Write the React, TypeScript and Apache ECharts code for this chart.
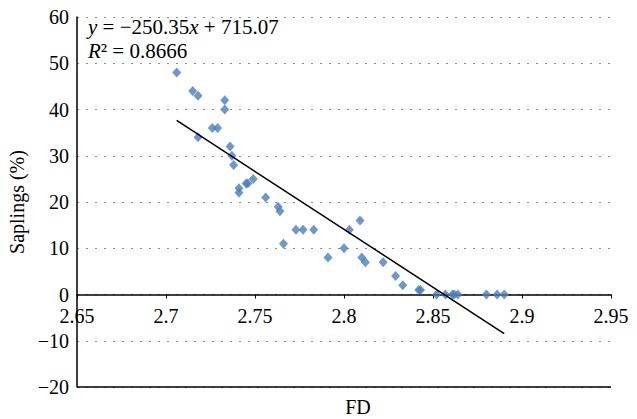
import React, { useEffect, useRef } from "react";
import * as echarts from "echarts";

const fdValues = [
  2.706, 2.715, 2.718, 2.718, 2.726, 2.729, 2.733, 2.733, 2.736, 2.737, 2.738,
  2.741, 2.741, 2.745, 2.746, 2.749, 2.756, 2.763, 2.764, 2.766, 2.773, 2.777,
  2.783, 2.791, 2.8, 2.803, 2.809, 2.81, 2.812, 2.822, 2.829, 2.833, 2.842,
  2.843, 2.852, 2.857, 2.861, 2.862, 2.864, 2.88, 2.886, 2.89,
];
const saplingValues = [
  48, 44, 43, 34, 36, 36, 42, 40, 32, 30, 28, 23, 22, 24, 24, 25, 21, 19, 18,
  11, 14, 14, 14, 8, 10, 14, 16, 8, 7, 7, 4, 2, 1, 1, 0, 0, 0, 0, 0, 0, 0, 0,
];
const slope = -250.35;
const intercept = 715.07;
const rSquared = "0.8666";
const xTicks = [2.65, 2.7, 2.75, 2.8, 2.85, 2.9, 2.95];
const yMin = -20;
const yMax = 60;

const FONT = "'Liberation Serif', 'DejaVu Serif', serif";
const GRID = { left: 77, right: 26, top: 17, bottom: 32 };
const CHART_H = 419;

export default function App() {
  const ref = useRef<HTMLDivElement>(null);
  useEffect(() => {
    if (!ref.current) return;
    const chart = echarts.init(ref.current, undefined, { renderer: "svg" });
    const points = fdValues.map((x, i) => [x, saplingValues[i]]);
    const xMin = Math.min(...fdValues);
    const xMax = Math.max(...fdValues);
    const trend = [
      [xMin, slope * xMin + intercept],
      [xMax, slope * xMax + intercept],
    ];
    const gridH = CHART_H - GRID.top - GRID.bottom;
    const zeroOffset = -gridH * ((0 - yMin) / (yMax - yMin));
    chart.setOption({
      animation: false,
      backgroundColor: "#ffffff",
      grid: { ...GRID, containLabel: false, outerBoundsMode: "none" },
      xAxis: {
        type: "value",
        min: 2.65,
        max: 2.95,
        interval: 0.05,
        position: "bottom",
        offset: zeroOffset,
        axisLine: { onZero: false, lineStyle: { color: "#000", width: 1.5 } },
        axisTick: { show: true, length: 4, lineStyle: { color: "#000" } },
        axisLabel: {
          color: "#000",
          fontFamily: FONT,
          fontSize: 20,
          lineHeight: 18,
          margin: 12,
          formatter: (v: number) => {
            const t = xTicks.find((k) => Math.abs(k - v) < 1e-6);
            return t === undefined ? "" : String(t);
          },
        },
        splitLine: { show: false },
        name: "FD",
        nameLocation: "middle",
        nameGap: 102,
        nameTextStyle: {
          color: "#000",
          fontFamily: FONT,
          fontSize: 20,
          padding: [0, 0, 0, 28],
        },
      },
      yAxis: {
        type: "value",
        min: yMin,
        max: yMax,
        interval: 10,
        axisLine: { show: true, lineStyle: { color: "#000", width: 1.5 } },
        axisTick: { show: false },
        axisLabel: {
          color: "#000",
          fontFamily: FONT,
          fontSize: 20,
          lineHeight: 16,
          margin: 8,
          formatter: (v: number) => (v < 0 ? "\u2212" + Math.abs(v) : String(v)),
        },
        splitLine: {
          show: true,
          lineStyle: { color: "#8a8a8a", type: [2, 7], width: 1.2 },
        },
        name: "Saplings (%)",
        nameLocation: "middle",
        nameGap: 46,
        nameTextStyle: { color: "#000", fontFamily: FONT, fontSize: 20 },
      },
      series: [
        {
          type: "line",
          data: trend,
          showSymbol: false,
          symbol: "none",
          lineStyle: { color: "#000", width: 1.5 },
          z: 3,
          markLine: {
            silent: true,
            symbol: "none",
            label: { show: false },
            lineStyle: { color: "#000", type: "solid", width: 1.5 },
            data: [{ yAxis: yMin }],
          },
        },
        {
          type: "scatter",
          data: points,
          symbol: "diamond",
          symbolSize: [9, 10],
          itemStyle: { color: "#4a7ebb" },
          z: 2,
        },
      ],
      graphic: [
        {
          type: "text",
          left: 88,
          top: 16,
          style: {
            text: "{i|y} = \u2212250.35{i|x} + 715.07",
            font: `21px ${FONT}`,
            fill: "#000",
            rich: {
              i: { fontStyle: "italic", fontFamily: FONT, fontSize: 21, fill: "#000" },
            },
          },
        },
        {
          type: "text",
          left: 88,
          top: 40,
          style: {
            text: "{i|R}\u00B2 = " + rSquared,
            font: `21px ${FONT}`,
            fill: "#000",
            rich: {
              i: { fontStyle: "italic", fontFamily: FONT, fontSize: 21, fill: "#000" },
            },
          },
        },
      ],
    });
    return () => chart.dispose();
  }, []);
  return (
    <div
      ref={ref}
      style={{ position: "fixed", left: 0, top: 0, width: 637, height: 419 }}
    />
  );
}
